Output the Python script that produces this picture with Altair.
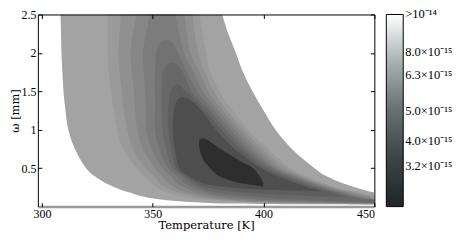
import altair as alt
import pandas as pd

# ---- axis ticks / labels ----
T_TICKS = [300, 350, 400, 450]
W_TICKS = [0.5, 1, 1.5, 2, 2.5]
T_DOMAIN = [298.15, 450]
W_DOMAIN = [0, 2.5]

# ---- contour levels: omega [mm], left and right temperature bounds [K] ----
W0 = [2.5, 2.25, 2.0, 1.75, 1.5, 1.25, 1.0, 0.75, 0.5, 0.4, 0.3, 0.25, 0.2, 0.18, 0.15, 0.12, 0.1, 0.08, 0.06, 0.045, 0.04, 0.035, 0.03, 0.027]
L0 = [308.4, 308.6, 308.8, 309.2, 309.7, 310.6, 311.9, 314.9, 319.9, 323.5, 329, 333, 337.5, 340, 343, 347.5, 352, 358, 367, 378, 385, 398, 425, 450]
R0 = [381.3, 384.1, 387.5, 390.7, 395, 400, 405.4, 412.8, 423, 428, 436, 441.5, 447.5, 450, 450, 450, 450, 450, 450, 450, 450, 450, 450, 450]

W1 = [2.5, 2.25, 2.0, 1.75, 1.5, 1.25, 1.0, 0.75, 0.5, 0.4, 0.3, 0.25, 0.2, 0.15, 0.14, 0.12, 0.1, 0.08, 0.066, 0.05, 0.04, 0.03]
L1 = [329.7, 329.6, 329.6, 330.2, 331, 332.5, 334, 336.5, 342.8, 346, 349.5, 351.6, 355, 360, 361.5, 365, 370, 379, 385, 400, 420, 450]
R1 = [371, 372.5, 374, 376, 380, 386, 393, 402, 412, 419, 427.5, 433, 441, 449, 450, 450, 450, 450, 450, 450, 450, 450]

W2 = [2.5, 2.25, 2.0, 1.75, 1.5, 1.25, 1.0, 0.75, 0.5, 0.4, 0.3, 0.25, 0.2, 0.15, 0.12, 0.11, 0.1, 0.075, 0.06, 0.045, 0.033]
L2 = [335.6, 335, 334.5, 335, 336, 337, 338.5, 341, 347, 350.5, 353, 356, 360, 366, 371, 373.5, 376, 385, 395, 415, 450]
R2 = [368, 369, 370.5, 373.5, 377.5, 383.5, 391, 399.5, 410, 417, 426, 431.5, 439, 446, 449, 450, 450, 450, 450, 450, 450]

W3 = [2.5, 2.25, 2.0, 1.75, 1.5, 1.25, 1.0, 0.75, 0.5, 0.4, 0.3, 0.25, 0.2, 0.15, 0.12, 0.1, 0.095, 0.085, 0.07, 0.05, 0.036]
L3 = [342.9, 341, 340, 340.5, 341.5, 342, 343, 345.5, 351, 354, 357, 360, 364, 370, 375, 380, 381.5, 385, 393, 412, 450]
R3 = [364.3, 365.5, 367, 371, 375, 381.5, 389, 397.5, 408, 415.5, 424.5, 430, 437, 443.5, 448, 449.5, 450, 450, 450, 450, 450]

W4 = [2.5, 2.25, 2.0, 1.75, 1.5, 1.25, 1.0, 0.75, 0.5, 0.4, 0.3, 0.25, 0.2, 0.15, 0.12, 0.1, 0.088, 0.08, 0.06, 0.04]
L4 = [348.8, 347, 345.5, 346, 346.5, 347, 347, 349.5, 354.5, 358, 361, 364.5, 368.5, 374.5, 380, 385, 389, 394, 410, 450]
R4 = [360, 362, 364, 368.5, 372.5, 379.5, 387, 395.5, 406, 414, 423, 428.5, 435, 441, 445.5, 449, 450, 450, 450, 450]

W5 = [2.17, 2.14, 2.08, 2.0, 1.75, 1.5, 1.25, 1.0, 0.75, 0.5, 0.4, 0.3, 0.25, 0.2, 0.15, 0.13, 0.12, 0.1, 0.083, 0.08, 0.06, 0.045]
L5 = [356, 353.5, 352.2, 351.5, 351, 351, 351, 351, 353, 357, 361, 364.5, 368, 372.5, 379, 385, 389, 395, 403, 405, 425, 450]
R5 = [356, 358.5, 360, 361.5, 365.5, 370, 377.5, 385, 393.5, 404.5, 412.5, 421.5, 427, 433, 439, 441.5, 443, 447, 450, 450, 450, 450]

W6 = [1.88, 1.85, 1.8, 1.75, 1.5, 1.25, 1.0, 0.75, 0.5, 0.4, 0.3, 0.25, 0.2, 0.16, 0.15, 0.13, 0.12, 0.1, 0.08, 0.06, 0.05]
L6 = [358.5, 356.3, 355.2, 354.5, 354, 354, 354.5, 356, 359, 363, 367.5, 371, 376, 385, 387.5, 395, 400, 410, 425, 440, 450]
R6 = [358.5, 360.8, 362.3, 363.5, 367.5, 375.5, 383, 391.5, 403, 410.5, 419.5, 425, 431, 436, 437, 439.5, 441, 445, 450, 450, 450]

W7 = [1.6, 1.57, 1.52, 1.5, 1.25, 1.0, 0.75, 0.5, 0.4, 0.3, 0.25, 0.2, 0.17, 0.15, 0.13, 0.12]
L7 = [361, 359.2, 358.3, 358, 357, 357, 358.5, 360.5, 364.5, 370, 375, 385, 397, 410, 428, 440]
R7 = [361, 362.8, 364, 365, 373.5, 381, 389.5, 401, 408.5, 417.5, 423, 429, 432, 434.5, 437, 440]

W8 = [1.43, 1.4, 1.35, 1.25, 1.0, 0.75, 0.5, 0.4, 0.3, 0.25, 0.22, 0.2]
L8 = [363.5, 361.5, 360.5, 359.5, 359, 360, 362, 366, 373, 385, 400, 426]
R8 = [363.5, 366, 368.5, 372, 378.5, 387, 399, 406, 415, 420, 424, 426]

W9 = [0.89, 0.87, 0.8, 0.7, 0.6, 0.5, 0.4, 0.33, 0.29, 0.26]
L9 = [372.5, 371.2, 370.9, 371.6, 373, 375.9, 379.7, 386, 393, 399.5]
R9 = [372.5, 374.5, 378.2, 383.4, 389, 395.3, 398, 399.5, 400, 399.5]

LEVEL_COLORS = ["#a3a3a3", "#9a9a9a", "#909090", "#868686", "#7c7c7c",
                "#727272", "#686868", "#5e5e5e", "#4e4e4e", "#2e2e2e"]

# ---- colorbar ----
CB_POS = [1.0, 0.805, 0.685, 0.5, 0.34, 0.21]
CB_LABELS = [">10\u207b\u00b9\u2074", "8.0\u00d710\u207b\u00b9\u2075", "6.3\u00d710\u207b\u00b9\u2075",
             "5.0\u00d710\u207b\u00b9\u2075", "4.0\u00d710\u207b\u00b9\u2075", "3.2\u00d710\u207b\u00b9\u2075"]
CB_STOPS = [(0.0, "#1f2528"), (0.25, "#3b4447"), (0.5, "#657171"), (0.75, "#a5b1b1"), (1.0, "#ffffff")]

LEVELS = [(W0, L0, R0), (W1, L1, R1), (W2, L2, R2), (W3, L3, R3), (W4, L4, R4),
          (W5, L5, R5), (W6, L6, R6), (W7, L7, R7), (W8, L8, R8), (W9, L9, R9)]

PW, PH = 338, 193
CBW = 17
TICK_FONT = "Liberation Serif"
TITLE_FONT = "DejaVu Serif"

xs = alt.Scale(domain=T_DOMAIN, nice=False, zero=False)
ys = alt.Scale(domain=W_DOMAIN, nice=False, zero=False)

common = dict(grid=False, zindex=1)
x_axes = [
    alt.Axis(orient="bottom", values=T_TICKS, format="d", title="Temperature [K]", tickSize=0,
             labelPadding=2, domainColor="#9a9a9a", domainWidth=2.5, labelFont=TICK_FONT,
             labelFontSize=12, labelColor="black", titleFont=TITLE_FONT, titleFontSize=11.5,
             titleFontWeight="normal", titleColor="black", titlePadding=0, **common),
    alt.Axis(orient="top", labels=False, ticks=False, title=None, domainColor="black", domainWidth=1, **common),
    alt.Axis(orient="bottom", values=T_TICKS, labels=False, title=None, domain=False, tickSize=4,
             offset=-4, tickColor="black", **common),
    alt.Axis(orient="top", values=T_TICKS, labels=False, title=None, domain=False, tickSize=4,
             offset=-4, tickColor="black", **common),
]
y_axes = [
    alt.Axis(orient="left", values=W_TICKS, format="~g", title="\u03c9 [mm]", tickSize=0,
             labelPadding=2, domainColor="black", domainWidth=1, labelFont=TICK_FONT,
             labelFontSize=12, labelColor="black", titleFont=TITLE_FONT, titleFontSize=11.5,
             titleFontWeight="normal", titleColor="black", titlePadding=0, **common),
    alt.Axis(orient="right", labels=False, ticks=False, title=None, domainColor="black", domainWidth=1, **common),
    alt.Axis(orient="left", values=W_TICKS, labels=False, title=None, domain=False, tickSize=4,
             offset=-4, tickColor="black", **common),
    alt.Axis(orient="right", values=W_TICKS, labels=False, title=None, domain=False, tickSize=4,
             offset=-4, tickColor="black", **common),
]

layers = []
for i, ((w, l, r), col) in enumerate(zip(LEVELS, LEVEL_COLORS)):
    df = pd.DataFrame({"omega": w, "tl": l, "tr": r})
    xa = x_axes[i] if i < len(x_axes) else None
    ya = y_axes[i] if i < len(y_axes) else None
    layers.append(
        alt.Chart(df).mark_area(orient="horizontal", color=col, interpolate="catmull-rom", clip=True)
        .encode(
            y=alt.Y("omega:Q", scale=ys, axis=ya),
            x=alt.X("tl:Q", scale=xs, axis=xa),
            x2="tr:Q",
        )
    )

main = alt.layer(*layers).resolve_axis(x="independent", y="independent").properties(width=PW, height=PH)

cbs = alt.Scale(domain=[0, 1], nice=False, zero=False)
grad = alt.Gradient(gradient="linear", x1=0, x2=0, y1=1, y2=0,
                    stops=[alt.GradientStop(offset=o, color=c) for o, c in CB_STOPS])
cb_rect = alt.Chart(pd.DataFrame({"lo": [0.0], "hi": [1.0]})).mark_rect(
    color=grad, stroke="black", strokeWidth=1
).encode(y=alt.Y("lo:Q", scale=cbs, axis=None), y2="hi:Q", x=alt.value(0), x2=alt.value(CBW))
cb_text = alt.Chart(pd.DataFrame({"pos": CB_POS, "label": CB_LABELS})).mark_text(
    align="left", baseline="middle", dx=2, font=TICK_FONT, fontSize=12.5, color="black"
).encode(y=alt.Y("pos:Q", scale=cbs, axis=None), x=alt.value(CBW), text="label:N")
cb = alt.layer(cb_rect, cb_text).properties(width=CBW, height=PH)

chart = alt.hconcat(main, cb, spacing=10).configure(
    padding={"left": 2, "top": 0, "right": 0, "bottom": 2}
).configure_view(strokeWidth=0)

chart.save("out.html", embed_options={"renderer": "svg", "actions": False})
